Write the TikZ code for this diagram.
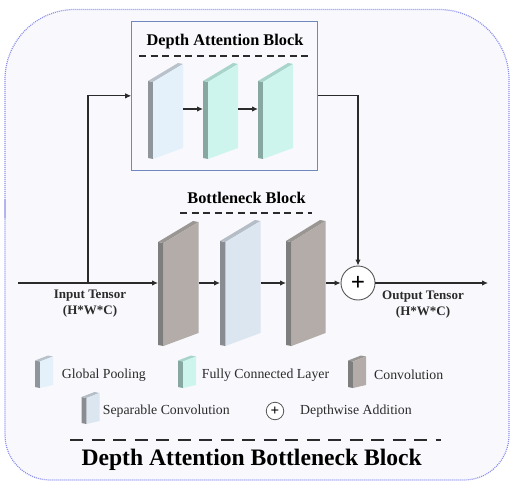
\documentclass[tikz,border=0pt]{standalone}
\usepackage{fontspec}
\setmainfont{Liberation Serif}
\usetikzlibrary{arrows.meta}
\definecolor{gpF}{HTML}{E5F1FA}\definecolor{gpS}{HTML}{8E959B}\definecolor{gpT}{HTML}{B9C2CA}
\definecolor{fcF}{HTML}{CDF5EE}\definecolor{fcS}{HTML}{86A8A0}\definecolor{fcT}{HTML}{A8D4CC}
\definecolor{cvF}{HTML}{B3ACA9}\definecolor{cvS}{HTML}{7E7E7E}\definecolor{cvT}{HTML}{9A9694}
\definecolor{scF}{HTML}{DCE6F1}\definecolor{scS}{HTML}{898C91}\definecolor{scT}{HTML}{B5BDC7}
\definecolor{bgfill}{HTML}{F9F9FD}
\definecolor{dotblue}{HTML}{8A8FEA}
\definecolor{boxblue}{HTML}{6F88BE}
\definecolor{ink}{HTML}{2B2B2B}
\definecolor{circgray}{HTML}{555555}
% #1 name, #2 x0, #3 side width, #4 front width, #5 y top (front-left), #6 y bottom (front-left), #7 top rise, #8 bottom rise, #9 colour prefix
\newcommand\Slab[9]{%
  \fill[#9S] (#2,#5-1) -- (#2+#3,#5) -- (#2+#3,#6) -- (#2,#6-1) -- cycle;
  \fill[#9T] (#2,#5-1) -- (#2+#3,#5) -- (#2+#3+#4,#5-#7) -- (#2+#4,#5-#7-1) -- cycle;
  \fill[#9F] (#2+#3,#5) -- (#2+#3+#4,#5-#7) -- (#2+#3+#4,#6-#8) -- (#2+#3,#6) -- cycle;
  \coordinate (#1-w) at (#2,\ay);
  \coordinate (#1-e) at (#2+#3+#4,\ay);
}
\tikzset{
  conn/.style={draw=ink, line width=1.1pt},
  arr/.style={conn, -{Latex[length=6pt,width=5.5pt]}},
  title/.style={font=\fontsize{16.3}{19}\bfseries\selectfont, text=black, inner sep=0pt},
  tlabel/.style={font=\fontsize{13}{16.5}\bfseries\selectfont, text=ink, align=center, inner sep=0pt},
  legtext/.style={font=\fontsize{13.8}{16}\selectfont, text=ink, anchor=west, inner sep=0pt},
  dashline/.style={draw=ink, line width=1.8pt, dash pattern=on 7pt off 4.6pt},
  plusnode/.style={circle, draw=circgray, line width=0.9pt, fill=white, inner sep=0pt},
}
\begin{document}
\begin{tikzpicture}[x=1pt,y=-1pt]
\useasboundingbox (0,0) rectangle (513,489);
% outer frame
\draw[dotblue, line width=1.2pt, dash pattern=on 1pt off 1pt, fill=bgfill]
  (5,245) [rounded corners=70pt] -- (5,9.5) -- (509,9.5) -- (509,245)
  [rounded corners=45pt] -- (509,480) -- (5,480) -- (5,245) -- cycle;

% Depth attention block
\node[draw=boxblue, line width=1pt, fill=bgfill, minimum width=186pt, minimum height=148.3pt, inner sep=0pt] (dab) at (224.7,95.85) {};
\node[title] (dabt) at (225,42) {Depth Attention Block};
\draw[dashline] (139,56) -- (312,56);
\def\ay{109}
\Slab{gp1}{148}{5}{30}{82}{159}{18}{11}{gp}
\Slab{fc1}{203}{5}{30}{82}{159}{18}{11}{fc}
\Slab{fc2}{258}{5}{30}{82}{159}{18}{11}{fc}

% Bottleneck block
\node[title] (bnt) at (246.5,198) {Bottleneck Block};
\draw[dashline] (180,212.7) -- (312,212.7);
\def\ay{283}
\Slab{bA}{158}{5.5}{35}{243}{346}{21}{13}{cv}
\Slab{bB}{220}{5.5}{35}{242}{346}{21}{13}{sc}
\Slab{bC}{286}{5.5}{34}{242}{346}{21}{13}{cv}

\node[plusnode, minimum size=34pt, font=\fontsize{25}{25}\bfseries\selectfont] (plus) at (358,283) {+};

% input / output
\coordinate (in) at (18,283);
\coordinate (br) at (88,283);
\coordinate (out) at (488,283);
\node[tlabel] (inl) at (90,303.5) {Input Tensor\\(H*W*C)};
\node[tlabel] (outl) at (423,304.5) {Output Tensor\\(H*W*C)};

% connectors
\draw[arr] (in) -- (bA-w);
\draw[arr] (br) |- (dab.west);
\draw[arr] (gp1-e) -- (fc1-w);
\draw[arr] (fc1-e) -- (fc2-w);
\draw[arr] (dab.east) -| (plus.north);
\draw[arr] (bA-e) -- (bB-w);
\draw[arr] (bB-e) -- (bC-w);
\draw[arr] (bC-e) -- (plus.west);
\draw[arr] (plus.east) -- (out);

% legend
\def\ay{375}
\Slab{lgp}{35}{5}{13}{361.5}{388}{5}{3}{gp}
\Slab{lfc}{178}{5}{13}{361.5}{388}{5}{3}{fc}
\Slab{lcv}{348}{5}{13}{361.5}{388}{5}{3}{cv}
\def\ay{411}
\Slab{lsc}{81.5}{5}{13}{398}{424}{5}{3}{sc}
\node[legtext] (t1) at (61.7,375) {Global Pooling};
\node[legtext] (t2) at (201.7,375) {Fully Connected Layer};
\node[legtext] (t3) at (374,375) {Convolution};
\node[legtext] (t4) at (102.7,411) {Separable Convolution};
\node[plusnode, minimum size=17.5pt, line width=0.8pt, font=\fontsize{15}{15}\bfseries\selectfont] (lplus) at (275,411) {+};
\node[legtext] (t5) at (300,411) {Depthwise Addition};

% bottom title
\draw[draw=ink, line width=2.8pt, dash pattern=on 13pt off 8.5pt] (70,440) -- (441,440);
\node[font=\fontsize{23.6}{26}\bfseries\selectfont, text=black, inner sep=0pt] (maint) at (251.7,459.5) {Depth Attention Bottleneck Block};
\end{tikzpicture}
\end{document}
